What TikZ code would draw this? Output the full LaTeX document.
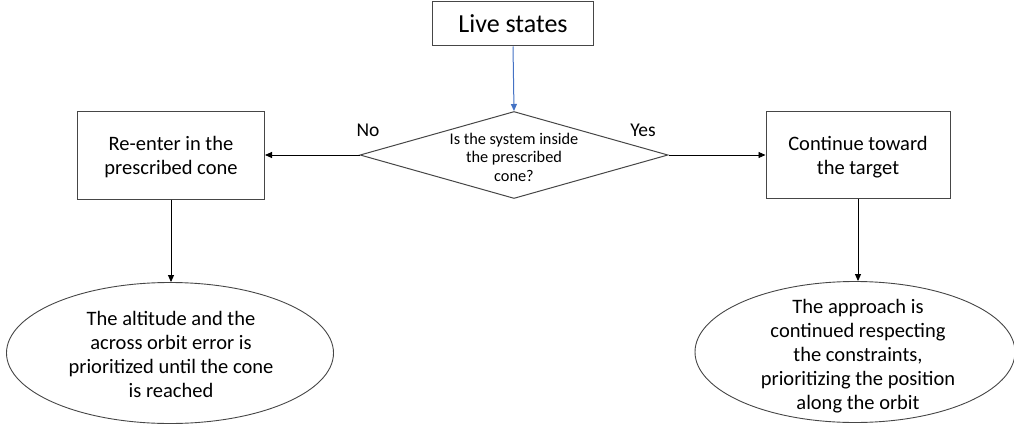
\documentclass[tikz,border=0pt]{standalone}
\usepackage{fontspec}
\setmainfont{Carlito}
\usetikzlibrary{shapes.geometric,arrows.meta}
\definecolor{bluearrow}{RGB}{68,114,196}
\definecolor{edge}{RGB}{70,70,70}
\tikzset{
  box/.style={draw=edge, line width=1pt, rectangle, align=center, inner sep=0pt},
  dec/.style={draw=edge, line width=1pt, diamond, align=center, inner sep=0pt},
  ell/.style={draw=edge, line width=0.9pt, ellipse, align=center, inner sep=0pt},
  arr/.style={-{Triangle[length=7pt,width=6pt]}, line width=0.9pt, black},
  txt/.style={font=\fontsize{20.5}{24}\selectfont, align=center},
  lbl/.style={font=\fontsize{19.5}{22}\selectfont}
}
\begin{document}
\begin{tikzpicture}[x=1pt,y=-1pt]
\useasboundingbox (0,0) rectangle (1014,428);
\node[box, minimum width=161pt, minimum height=44pt, font=\fontsize{26}{30}\selectfont] (live) at (513,24) {Live states};
\node[dec, minimum width=308pt, minimum height=87pt, aspect=3.5] (q) at (514,155) {};
\node[font=\fontsize{16.3}{18.5}\selectfont, align=center] (qt) at (514,157) {Is the system inside\\the prescribed\\cone?};
\node[box, minimum width=187pt, minimum height=88pt] (re) at (171,155) {};
\node[txt] (ret) at (171,157) {Re-enter in the\\prescribed cone};
\node[box, minimum width=184pt, minimum height=87pt] (co) at (858,155) {};
\node[txt] (cot) at (858,157) {Continue toward\\the target};
\node[ell, minimum width=327pt, minimum height=141pt] (e1) at (170,353) {};
\node[txt] (e1t) at (171,354) {The altitude and the\\across orbit error is\\prioritized until the cone\\is reached};
\node[ell, minimum width=320pt, minimum height=141pt] (e2) at (855,352) {};
\node[txt] (e2t) at (858,356) {The approach is\\continued respecting\\the constraints,\\prioritizing the position\\along the orbit};
\node[lbl] (no) at (368,130) {No};
\node[lbl] (yes) at (643,130) {Yes};
\draw[arr, bluearrow, line width=1pt] (live.south) -- (q.north);
\draw[arr] (q.west) -- (re.east);
\draw[arr] (q.east) -- (co.west);
\draw[arr] (re.south) -- (re.south |- e1.north);
\draw[arr] (co.south) -- (co.south |- e2.north);
\end{tikzpicture}
\end{document}
